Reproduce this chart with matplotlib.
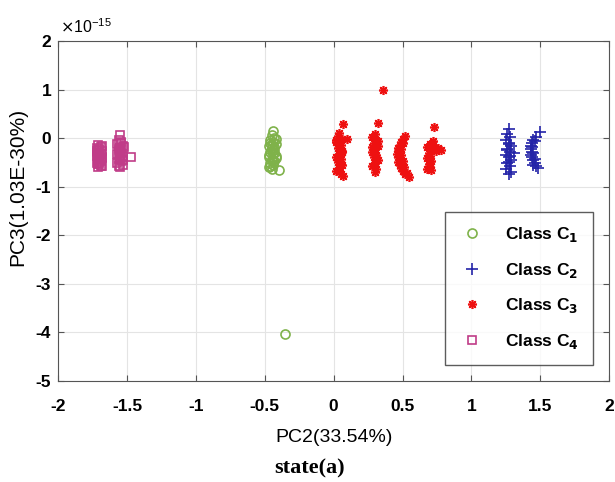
import matplotlib
matplotlib.use("Agg")
import matplotlib.pyplot as plt
import numpy as np
from matplotlib.ticker import FuncFormatter

# PC2 / PC3 scores, PC3 values written in units of 1e-15
c1_x = [-0.44, -0.45, -0.43, -0.46, -0.44, -0.42, -0.47, -0.45, -0.43, -0.46,
        -0.44, -0.42, -0.47, -0.45, -0.43, -0.46, -0.44, -0.47, -0.45, -0.42,
        -0.46, -0.43, -0.45, -0.47, -0.42, -0.44, -0.46, -0.45, -0.43, -0.44,
        -0.40, -0.35]
c1_y = [0.15, 0.06, 0.0, -0.04, -0.08, -0.12, -0.16, -0.20, -0.24, -0.28,
        -0.32, -0.36, -0.40, -0.44, -0.48, -0.52, -0.56, -0.60, -0.63, -0.02,
        -0.10, -0.18, -0.26, -0.34, -0.42, -0.50, -0.58, -0.14, -0.30, -0.46,
        -0.66, -4.03]

c2_x = [1.27, 1.26, 1.28, 1.25, 1.27, 1.29, 1.26, 1.28, 1.25, 1.27, 1.29,
        1.26, 1.28, 1.25, 1.29, 1.27, 1.27, 1.26, 1.28, 1.27, 1.31,
        1.50, 1.47, 1.45, 1.44, 1.43, 1.43, 1.44, 1.43, 1.44, 1.45, 1.46,
        1.47, 1.48, 1.46, 1.44, 1.45, 1.46, 1.45]
c2_y = [0.18, 0.08, 0.02, -0.04, -0.10, -0.16, -0.22, -0.28, -0.34, -0.40, -0.46,
        -0.52, -0.58, -0.64, -0.70, -0.75, -0.13, -0.25, -0.37, -0.49, -0.31,
        0.12, 0.02, -0.04, -0.10, -0.16, -0.22, -0.28, -0.34, -0.40, -0.46, -0.52,
        -0.58, -0.62, -0.07, -0.19, -0.31, -0.43, -0.55]

c3_x = [0.07, 0.04, 0.03, 0.06, 0.02, 0.05, 0.03, 0.06, 0.04, 0.02, 0.05, 0.03,
        0.06, 0.04, 0.02, 0.05, 0.07, 0.02, 0.04, 0.06, 0.03, 0.05, 0.04, 0.10,
        0.36, 0.32, 0.30, 0.28, 0.31, 0.29, 0.32, 0.30, 0.28, 0.31, 0.29,
        0.32, 0.30, 0.28, 0.31, 0.30, 0.32, 0.28, 0.30, 0.31, 0.29,
        0.52, 0.50, 0.49, 0.48, 0.47, 0.47, 0.46, 0.47, 0.48, 0.47, 0.48,
        0.49, 0.50, 0.52, 0.55, 0.50, 0.49, 0.49, 0.50, 0.51, 0.53,
        0.73, 0.72, 0.70, 0.68, 0.71, 0.69, 0.70, 0.68, 0.71, 0.69,
        0.70, 0.71, 0.72, 0.74, 0.69, 0.70, 0.68, 0.78, 0.76]
c3_y = [0.28, 0.10, 0.04, -0.02, -0.08, -0.14, -0.20, -0.26, -0.32, -0.38, -0.44, -0.50,
        -0.56, -0.62, -0.68, -0.74, -0.78, -0.05, -0.17, -0.29, -0.41, -0.53, -0.65, -0.02,
        1.00, 0.30, 0.08, 0.02, -0.04, -0.10, -0.16, -0.22, -0.28, -0.34, -0.40,
        -0.46, -0.52, -0.58, -0.64, -0.70, -0.07, -0.19, -0.31, -0.43, -0.55,
        0.05, -0.02, -0.08, -0.14, -0.20, -0.26, -0.32, -0.38, -0.44, -0.50, -0.56,
        -0.62, -0.68, -0.74, -0.80, -0.11, -0.23, -0.35, -0.47, -0.59, -0.71,
        0.23, -0.06, -0.12, -0.18, -0.24, -0.30, -0.36, -0.42, -0.48, -0.54,
        -0.60, -0.66, -0.15, -0.27, -0.39, -0.51, -0.63, -0.25, -0.20]

c4_x = [-1.71, -1.69, -1.72, -1.70, -1.68, -1.71, -1.69, -1.72, -1.70, -1.68,
        -1.71, -1.69, -1.72, -1.70, -1.68, -1.71, -1.68, -1.72, -1.70, -1.69,
        -1.71, -1.70, -1.72, -1.68, -1.70, -1.69,
        -1.55, -1.56, -1.54, -1.57, -1.53, -1.55, -1.56, -1.54, -1.57, -1.53,
        -1.55, -1.56, -1.54, -1.57, -1.53, -1.55, -1.54, -1.56, -1.55, -1.53,
        -1.56, -1.54, -1.55, -1.47, -1.52]
c4_y = [-0.14, -0.18, -0.21, -0.24, -0.27, -0.30, -0.33, -0.36, -0.39, -0.42,
        -0.45, -0.48, -0.51, -0.54, -0.57, -0.60, -0.16, -0.26, -0.35, -0.44,
        -0.53, -0.22, -0.31, -0.40, -0.49, -0.58,
        0.07, -0.04, -0.08, -0.12, -0.16, -0.20, -0.24, -0.28, -0.32, -0.36,
        -0.40, -0.44, -0.48, -0.52, -0.56, -0.60, -0.10, -0.22, -0.34, -0.46,
        -0.58, -0.30, -0.42, -0.38, -0.18]

labels = [r'Class C$_{\bf 1}$', r'Class C$_{\bf 2}$', r'Class C$_{\bf 3}$', r'Class C$_{\bf 4}$']

plt.rcParams['font.family'] = ['Liberation Sans', 'DejaVu Sans']
plt.rcParams['axes.unicode_minus'] = False

fig = plt.figure(figsize=(6.15, 4.82), dpi=100)
ax = fig.add_axes([0.0945, 0.21, 0.896, 0.705])

scale = 1e-15
ax.plot(c1_x, np.array(c1_y) * scale, 'o', mfc='none', mec='#7fb24a', ms=6.5, mew=1.2, label=labels[0])
ax.plot(c2_x, np.array(c2_y) * scale, '+', color='#2424a8', ms=8, mew=1.2, label=labels[1])
ax.plot(c3_x, np.array(c3_y) * scale, ls='none', marker=(8, 2, 0), color='#ee1111', ms=6.5, mew=1.2, label=labels[2])
ax.plot(c4_x, np.array(c4_y) * scale, 's', mfc='none', mec='#c03c88', ms=5.5, mew=1.2, label=labels[3])

ax.set_xlim(-2, 2)
ax.set_ylim(-5e-15, 2e-15)
ax.set_xticks(np.arange(-2, 2.01, 0.5))
ax.set_yticks(np.arange(-5, 2.01, 1) * scale)
ax.xaxis.set_major_formatter(FuncFormatter(lambda v, p: '%g' % v))
ax.yaxis.set_major_formatter(FuncFormatter(lambda v, p: '%g' % round(v / scale)))
ax.text(0.004, 1.015, r'$\times$10$^{\mathregular{-15}}$', transform=ax.transAxes,
        fontsize=11.5, ha='left', va='bottom')

ax.grid(True, color='#e4e4e4', lw=0.8)
ax.set_axisbelow(True)
ax.tick_params(direction='in', top=True, right=True, length=4, color='#555555', labelsize=12.5)
ax.tick_params(axis='x', pad=13)
ax.tick_params(axis='y', pad=5)
for t in ax.get_xticklabels() + ax.get_yticklabels():
    t.set_fontweight('bold')
for s in ax.spines.values():
    s.set_color('#555555')

ax.set_xlabel('PC2(33.54%)', fontsize=14, labelpad=11)
ax.set_ylabel('PC3(1.03E-30%)', fontsize=15)
ax.yaxis.set_label_coords(-0.056, 0.57)

leg = ax.legend(loc='lower right', bbox_to_anchor=(0.971, 0.047),
                prop={'weight': 'bold', 'size': 12.5}, labelspacing=0.95,
                fancybox=False, edgecolor='#333333', handletextpad=1.1,
                borderpad=0.8, handlelength=1.6, borderaxespad=0)
leg.get_frame().set_linewidth(1.0)

fig.text(0.504, 0.029, 'state(a)', family='Liberation Serif', fontweight='bold',
         fontsize=16, ha='center', va='center')

fig.savefig('out.png', dpi=100)
